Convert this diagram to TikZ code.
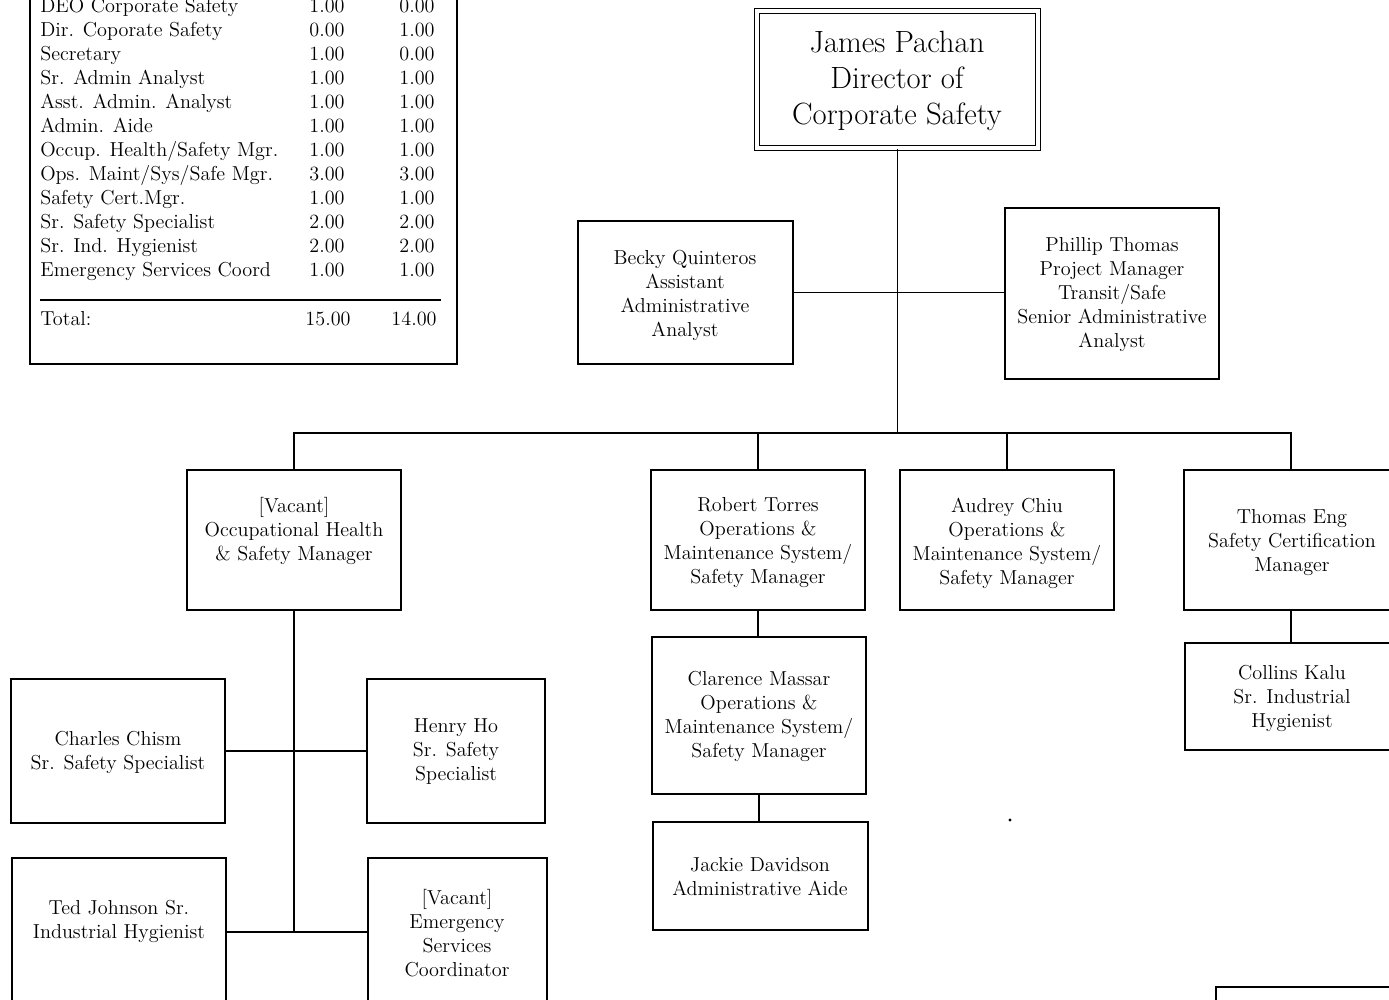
\documentclass[tikz,border=0pt]{standalone}
\usetikzlibrary{fit}
\newcommand\bxfont{\fontsize{11.5}{13.66}\selectfont}
\newcommand\dirfont{\fontsize{17.5}{20.5}\selectfont}
\begin{document}
\begin{tikzpicture}[x=0.02cm,y=-0.02cm,
  box/.style={draw, line width=1.1pt, inner sep=0pt},
  lbl/.style={inner sep=0pt, align=center, font=\bxfont},
  trow/.style={inner sep=0pt, anchor=base west, font=\bxfont},
  tnum/.style={inner sep=0pt, anchor=base, font=\bxfont},
  conn/.style={line width=1.1pt}]
\useasboundingbox (0,0) rectangle (1389,1000);
\clip (0,0) rectangle (1389,1000);
\fill[white] (0,0) rectangle (1389,1000);

% staffing table
\node[box, fit={(30,-60) (457,364)}] (tbl) {};
\foreach \n/\a/\b [count=\i from 0] in {
  DEO Corporate Safety/1.00/0.00,
  Dir. Coporate Safety/0.00/1.00,
  Secretary/1.00/0.00,
  Sr. Admin Analyst/1.00/1.00,
  Asst. Admin. Analyst/1.00/1.00,
  Admin. Aide/1.00/1.00,
  Occup. Health\slash Safety Mgr./1.00/1.00,
  Ops. Maint\slash Sys\slash Safe Mgr./3.00/3.00,
  Safety Cert.Mgr./1.00/1.00,
  Sr. Safety Specialist/2.00/2.00,
  Sr. Ind. Hygienist/2.00/2.00,
  Emergency Services Coord/1.00/1.00}{
  \node[trow] (r\i) at (40,{12.5+24*\i}) {\n};
  \node[tnum] (ra\i) at (327,{12.5+24*\i}) {\a};
  \node[tnum] (rb\i) at (417,{12.5+24*\i}) {\b};
}
\coordinate (rl) at (40,300);
\coordinate (rr) at (441,300);
\draw[line width=0.9pt] (rl) -- (rr);
\node[trow] (tot) at (40,325) {Total:};
\node[tnum] (tota) at (328,325) {15.00};
\node[tnum] (totb) at (414,325) {14.00};

% director
\node[draw, double, double distance=0.07cm, line width=0.9pt, inner sep=0pt,
  fit={(757,11) (1038,148)}] (dir) {};
\node[inner sep=0pt, align=center, font=\dirfont] (dirt) at (897,81)
  {James Pachan\\Director of\\Corporate Safety};

% staff
\node[box, fit={(578,221) (793,364)}] (becky) {};
\node[lbl] (beckyt) at (685,295) {Becky Quinteros\\Assistant\\Administrative\\Analyst};
\node[box, fit={(1005,208) (1219,379)}] (phil) {};
\node[lbl] (philt) at (1112,295) {Phillip Thomas\\Project Manager\\Transit/Safe\\Senior Administrative\\Analyst};

% managers
\node[box, fit={(187,470) (401,610)}] (vohs) {};
\node[lbl] (vohst) at (294,531) {[Vacant]\\Occupational Health\\\& Safety Manager};
\node[box, fit={(651,470) (865,610)}] (robert) {};
\node[lbl] (robertt) at (758,543) {Robert Torres\\Operations \&\\Maintenance System/\\Safety Manager};
\node[box, fit={(900,470) (1114,610)}] (audrey) {};
\node[lbl] (audreyt) at (1007,543) {Audrey Chiu\\Operations \&\\Maintenance System/\\Safety Manager};
\node[box, fit={(1184,470) (1398,610)}] (thomas) {};
\node[lbl] (thomast) at (1292,543) {Thomas Eng\\Safety Certification\\Manager};
\node[box, fit={(1185,643) (1399,750)}] (collins) {};
\node[lbl] (collinst) at (1292,698) {Collins Kalu\\Sr. Industrial\\Hygienist};

\node[box, fit={(652,637) (866,794)}] (clarence) {};
\node[lbl] (clarencet) at (759,716) {Clarence Massar\\Operations \&\\Maintenance System/\\Safety Manager};
\node[box, fit={(653,822) (868,930)}] (jackie) {};
\node[lbl] (jackiet) at (760,877) {Jackie Davidson\\Administrative Aide};

% OHS group
\node[box, fit={(11,679) (225,823)}] (charles) {};
\node[lbl] (charlest) at (118,752) {Charles Chism\\Sr. Safety Specialist};
\node[box, fit={(367,679) (545,823)}] (henry) {};
\node[lbl] (henryt) at (456,752) {Henry Ho\\Sr. Safety\\Specialist};
\node[box, fit={(12,858) (226,1006)}] (ted) {};
\node[lbl] (tedt) at (119,921) {Ted Johnson Sr.\\Industrial Hygienist};
\node[box, fit={(368,858) (547,1006)}] (vesc) {};
\node[lbl] (vesct) at (457,933) {[Vacant]\\Emergency\\Services\\Coordinator};

% partial box bottom right
\node[box, fit={(1216,987) (1430,1120)}] (partial) {};

% connectors
\coordinate (bus) at (897,433);
\draw[conn] (dir.south) -- (dir.south |- bus);
\draw[conn] (becky.east) -- (becky.east -| phil.west);
\draw[conn] (vohs.north) -- (vohs.north |- bus) -- (thomas.north |- bus) -- (thomas.north);
\draw[conn] (robert.north) -- (robert.north |- bus);
\draw[conn] (audrey.north) -- (audrey.north |- bus);
\draw[conn] (thomas.south) -- (thomas.south |- collins.north);
\draw[conn] (robert.south) -- (robert.south |- clarence.north);
\draw[conn] (clarence.south) -- (clarence.south |- jackie.north);
\draw[conn] (vohs.south) -- (vohs.south |- ted.east);
\draw[conn] (charles.east) -- (henry.west);
\draw[conn] (ted.east) -- (vesc.west);

% speck
\fill (1010,820) circle (1.6);
\end{tikzpicture}
\end{document}
